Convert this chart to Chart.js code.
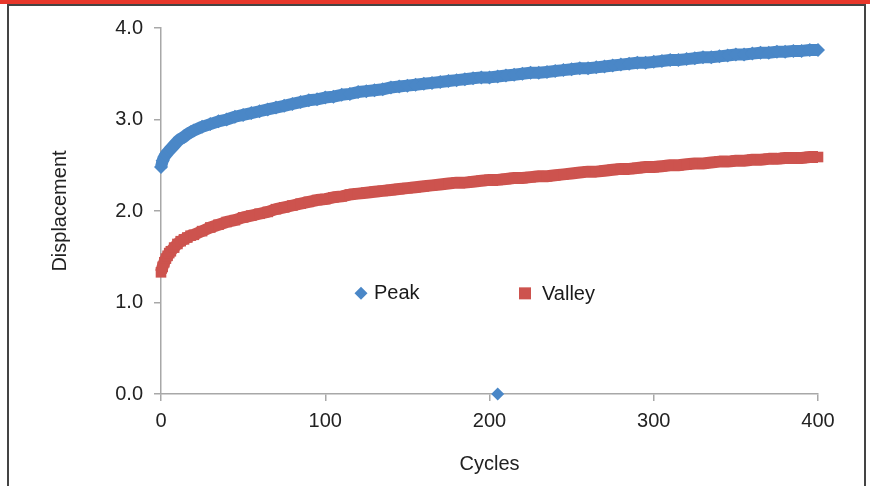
<!DOCTYPE html>
<html>
<head>
<meta charset="utf-8">
<script src="https://cdn.jsdelivr.net/npm/chart.js@4/dist/chart.umd.min.js"></script>
<style>
  body { margin: 0; background: #fff; }
  #wrap { position: relative; width: 870px; height: 486px; overflow: hidden; }
  #bar { position: absolute; left: 0; top: 0; width: 870px; height: 4px; background: #e8372b; }
  #frame { position: absolute; left: 7px; top: 4px; width: 859px; height: 490px;
           border: 2px solid #444; border-bottom: none; box-sizing: border-box; }
</style>
</head>
<body>
<div id="wrap">
  <canvas id="grafico" width="870" height="486"></canvas>
  <div id="frame"></div>
  <div id="bar"></div>
</div>
<script>
  var ciclos = [0, 1, 2, 3, 4, 5, 6, 8, 10, 12, 14, 16, 18, 20,
    25, 30, 35, 40, 45, 50, 55, 60, 65, 70, 75, 80, 85, 90, 95, 100,
    105, 110, 115, 120, 125, 130, 135, 140, 145, 150, 155, 160, 165, 170, 175, 180, 185, 190, 195, 200,
    205, 210, 215, 220, 225, 230, 235, 240, 245, 250, 255, 260, 265, 270, 275, 280, 285, 290, 295, 300,
    305, 310, 315, 320, 325, 330, 335, 340, 345, 350, 355, 360, 365, 370, 375, 380, 385, 390, 395, 400];

  var pico = [2.48, 2.55, 2.59, 2.62, 2.64, 2.66, 2.68, 2.72, 2.76, 2.79, 2.81, 2.84, 2.86, 2.88,
    2.92, 2.95, 2.98, 3.00, 3.03, 3.05, 3.07, 3.09, 3.11, 3.13, 3.15, 3.17, 3.19, 3.21, 3.22, 3.24,
    3.25, 3.27, 3.28, 3.30, 3.31, 3.32, 3.33, 3.35, 3.36, 3.37, 3.38, 3.39, 3.40, 3.41, 3.42, 3.43, 3.44, 3.45, 3.46, 3.46,
    3.47, 3.48, 3.49, 3.50, 3.51, 3.51, 3.52, 3.53, 3.54, 3.55, 3.56, 3.56, 3.57, 3.58, 3.59, 3.60, 3.61, 3.62, 3.62, 3.63,
    3.64, 3.65, 3.65, 3.66, 3.67, 3.68, 3.68, 3.69, 3.70, 3.71, 3.71, 3.72, 3.73, 3.73, 3.74, 3.74, 3.75, 3.75, 3.76, 3.76];

  var valle = [1.33, 1.39, 1.44, 1.48, 1.51, 1.54, 1.56, 1.60, 1.64, 1.67, 1.69, 1.71, 1.73, 1.74,
    1.78, 1.82, 1.85, 1.88, 1.90, 1.93, 1.95, 1.97, 1.99, 2.02, 2.04, 2.06, 2.08, 2.10, 2.12, 2.13,
    2.15, 2.16, 2.18, 2.19, 2.20, 2.21, 2.22, 2.23, 2.24, 2.25, 2.26, 2.27, 2.28, 2.29, 2.30, 2.31, 2.31, 2.32, 2.33, 2.34,
    2.34, 2.35, 2.36, 2.36, 2.37, 2.38, 2.38, 2.39, 2.40, 2.41, 2.42, 2.43, 2.43, 2.44, 2.45, 2.46, 2.46, 2.47, 2.48, 2.48,
    2.49, 2.50, 2.50, 2.51, 2.52, 2.52, 2.53, 2.54, 2.54, 2.55, 2.55, 2.56, 2.56, 2.57, 2.57, 2.58, 2.58, 2.58, 2.59, 2.59];

  // stray peak point sitting on the x axis
  var picoSueltoCiclo = [205];
  var picoSueltoValor = [0.0];

  var etiquetas = ['Peak', 'Valley'];
  var azul = '#4a87c7';
  var rojo = '#cd534e';
  var fuente = '"Liberation Sans", Arial, sans-serif';

  function puntos(xs, ys) {
    var out = [];
    for (var i = 0; i < xs.length; i++) out.push({x: xs[i], y: ys[i]});
    return out;
  }

  // legend drawn inside the plot area, like the original
  var leyendaInterna = {
    id: 'leyendaInterna',
    afterDraw: function (chart) {
      var c = chart.ctx;
      var y = chart.scales.y.getPixelForValue(1.1);
      c.save();
      c.font = '20px ' + fuente;
      c.textBaseline = 'middle';
      c.fillStyle = azul;
      var x1 = 361;
      c.beginPath();
      c.moveTo(x1, y - 6.5); c.lineTo(x1 + 6.5, y); c.lineTo(x1, y + 6.5); c.lineTo(x1 - 6.5, y);
      c.closePath(); c.fill();
      c.fillStyle = '#1a1a1a';
      c.fillText(etiquetas[0], 374, y);
      c.fillStyle = rojo;
      c.fillRect(519, y - 6, 12, 12);
      c.fillStyle = '#1a1a1a';
      c.fillText(etiquetas[1], 542, y + 1);
      c.restore();
    }
  };

  var ctx = document.getElementById('grafico').getContext('2d');
  var grafico = new Chart(ctx, {
    type: 'scatter',
    data: {
      datasets: [
        {
          label: etiquetas[0],
          data: puntos(ciclos, pico),
          showLine: true,
          borderWidth: 12,
          borderJoinStyle: 'round',
          pointStyle: 'rectRot',
          pointRadius: 7,
          pointBorderWidth: 0,
          backgroundColor: azul,
          borderColor: azul,
          clip: false
        },
        {
          label: etiquetas[0],
          data: puntos(picoSueltoCiclo, picoSueltoValor),
          pointStyle: 'rectRot',
          pointRadius: 6.5,
          pointBorderWidth: 0,
          backgroundColor: azul,
          borderColor: azul,
          clip: false
        },
        {
          label: etiquetas[1],
          data: puntos(ciclos, valle),
          showLine: true,
          borderWidth: 12,
          borderJoinStyle: 'round',
          pointStyle: 'rect',
          pointRadius: 7.5,
          pointBorderWidth: 0,
          backgroundColor: rojo,
          borderColor: rojo,
          clip: false
        }
      ]
    },
    options: {
      responsive: false,
      animation: false,
      layout: { padding: { left: 44, right: 52, top: 28, bottom: 6 } },
      plugins: { legend: { display: false }, tooltip: { enabled: false } },
      scales: {
        x: {
          type: 'linear',
          min: 0, max: 400,
          afterFit: function (s) { s.height = 86; },
          border: { color: '#a8a8a8', width: 1.5 },
          grid: { drawOnChartArea: false, drawTicks: true, tickLength: 7, color: '#a8a8a8', lineWidth: 1.5 },
          ticks: { stepSize: 100, padding: 8, color: '#222', font: { family: fuente, size: 20 } },
          title: { display: true, text: 'Cycles', color: '#222', font: { family: fuente, size: 20 } }
        },
        y: {
          min: 0, max: 4,
          afterFit: function (s) { s.width = 117; },
          border: { color: '#a8a8a8', width: 1.5 },
          grid: { drawOnChartArea: false, drawTicks: true, tickLength: 7, color: '#a8a8a8', lineWidth: 1.5 },
          ticks: {
            stepSize: 1, padding: 11, color: '#222', font: { family: fuente, size: 20 },
            callback: function (v) { return v.toFixed(1); }
          },
          title: { display: true, text: 'Displacement', color: '#222', font: { family: fuente, size: 20 } }
        }
      }
    },
    plugins: [leyendaInterna]
  });
</script>
</body>
</html>
